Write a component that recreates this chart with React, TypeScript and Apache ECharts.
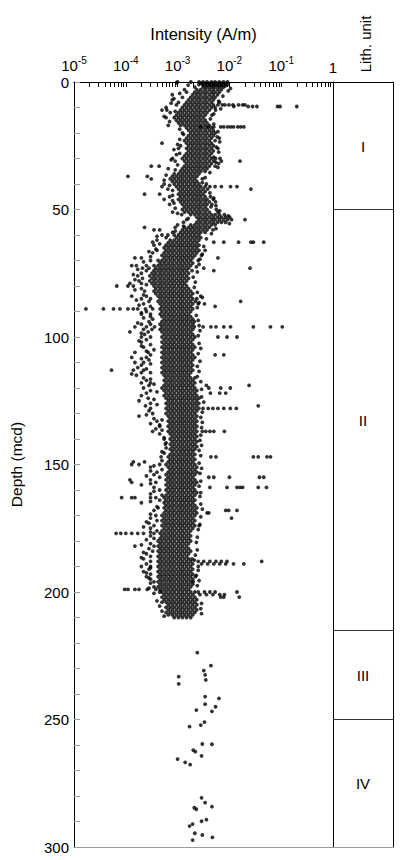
import { useEffect, useRef } from "react";
import * as echarts from "echarts";

type Row = [number, number[]];

// Remanent intensity, in mA/m (10^-3 A/m), listed per depth row (mcd)
const unitIRows: Row[] = [
  [0, [1.0, 1.8, 2.6, 3.1, 3.7, 4.5, 5.3, 6.4, 7.7, 9.2]],
  [0.5, [2.8, 3.4, 4.1, 4.9, 5.9, 7.0, 8.4]],
  [1, [2.58, 3.1, 3.7, 4.5, 5.3, 6.4, 7.7, 9.2]],
  [1.5, [3.4, 4.1, 4.9, 5.9, 7.0, 8.4]],
  [2, [2.15, 3.1, 3.7, 4.5, 5.3, 6.4, 7.7]],
  [3, [1.36, 2.35, 2.8, 3.4, 4.1, 4.9, 5.9, 7.0]],
  [4, [1.49, 2.15, 2.58, 3.1, 3.7, 4.5, 5.3, 6.4]],
  [5, [0.79, 1.96, 2.35, 2.8, 3.4, 4.1, 4.9, 5.9]],
  [6, [1.24, 1.79, 2.15, 2.58, 3.1, 3.7, 4.5, 5.3]],
  [7, [0.79, 1.63, 1.96, 2.35, 2.8, 3.4, 4.1, 4.9]],
  [8, [1.04, 1.49, 1.79, 2.15, 2.58, 3.1, 3.7, 4.5, 6.4]],
  [9, [0.95, 1.36, 1.63, 1.96, 2.35, 2.8, 3.4, 4.1, 4.9, 6.0, 7.3, 8.2, 9.8, 11.7, 15, 18, 20]],
  [9.6, [12.2, 23, 28, 34, 85, 95, 200]],
  [10, [0.6, 1.24, 1.49, 1.79, 2.15, 2.58, 3.1, 3.7, 4.5, 5.3]],
  [11, [0.5, 0.62, 1.14, 1.36, 1.63, 1.96, 2.35, 2.8, 3.4, 4.1, 5.4]],
  [12, [0.72, 1.04, 1.24, 1.49, 1.79, 2.15, 2.58, 3.1, 3.7]],
  [13, [0.95, 1.14, 1.36, 1.63, 1.96, 2.35, 2.8, 3.4, 4.6]],
  [14, [0.6, 0.86, 1.04, 1.24, 1.49, 1.79, 2.15, 2.58, 3.1]],
  [15, [0.95, 1.14, 1.36, 1.63, 1.96, 2.35, 2.8, 3.4]],
  [16, [1.04, 1.24, 1.49, 1.79, 2.15, 2.58, 3.1, 3.7]],
  [17, [0.66, 1.14, 1.36, 1.63, 1.96, 2.35, 2.8, 3.4, 4.1]],
  [17.6, [2.8, 3.9, 5.0, 6.8, 7.8, 9.3, 10.6, 12, 14.5, 16.5, 19]],
  [18, [1.49, 1.79, 2.15, 2.58, 3.1, 3.7, 4.5]],
  [19, [1.63, 1.96, 2.35, 2.8, 3.4, 4.1, 4.9]],
  [20, [1.24, 1.79, 2.15, 2.58, 3.1, 3.7, 4.5, 5.3]],
  [21, [1.63, 1.96, 2.35, 2.8, 3.4, 4.1, 4.9]],
  [22, [1.49, 1.79, 2.15, 2.58, 3.1, 3.7, 4.5, 6.4]],
  [23, [1.36, 1.63, 1.96, 2.35, 2.8, 3.4, 4.1, 5.3]],
  [24, [0.5, 1.49, 1.79, 2.15, 2.58, 3.1, 3.7, 4.5]],
  [25, [1.14, 1.63, 1.96, 2.35, 2.8, 3.4, 4.1, 4.9]],
  [26, [1.04, 1.49, 1.79, 2.15, 2.58, 3.1, 3.7, 4.5, 6.0]],
  [27, [1.63, 1.96, 2.35, 2.8, 3.4, 4.1, 4.9]],
  [28, [1.1, 1.49, 1.79, 2.15, 2.58, 3.1, 3.7, 4.5]],
  [29, [1.36, 1.63, 1.96, 2.35, 2.8, 3.4, 4.1]],
  [30, [0.8, 1.24, 1.49, 1.79, 2.15, 2.58, 3.1, 3.7, 4.5, 5.4, 6.6]],
  [31, [0.9, 1.36, 1.63, 1.96, 2.35, 2.8, 3.4, 4.1, 5.0, 7.0, 16]],
  [32, [1.49, 1.79, 2.15, 2.58, 3.1, 3.7, 4.5, 6.2]],
  [33, [0.31, 0.44, 1.36, 1.63, 1.96, 2.35, 2.8, 3.4, 4.1, 5.3]],
  [34, [0.66, 1.24, 1.49, 1.79, 2.15, 2.58, 3.1, 3.7]],
  [35, [1.14, 1.36, 1.63, 1.96, 2.35, 2.8, 3.4]],
  [36, [0.86, 1.04, 1.24, 1.49, 1.79, 2.15, 2.58]],
  [37, [0.11, 0.26, 0.79, 0.95, 1.14, 1.36, 1.63, 1.96, 2.35]],
  [38, [0.31, 0.72, 0.86, 1.04, 1.24, 1.49, 1.79, 2.15, 3.0]],
  [39, [0.79, 0.95, 1.14, 1.36, 1.63, 1.96, 2.35]],
  [40, [0.55, 0.86, 1.04, 1.24, 1.49, 1.79, 2.15, 2.58, 3.6]],
  [41, [0.5, 0.95, 1.14, 1.36, 1.63, 1.96, 2.35, 2.8, 3.4, 4.2, 5.3, 7.0, 10.5, 14]],
  [42, [0.65, 1.04, 1.24, 1.49, 1.79, 2.15, 2.58, 3.1, 3.8, 26]],
  [43, [1.14, 1.36, 1.63, 1.96, 2.35, 2.8, 3.4]],
  [44, [0.23, 0.45, 1.04, 1.24, 1.49, 1.79, 2.15, 2.58, 3.1]],
  [45, [0.7, 1.14, 1.36, 1.63, 1.96, 2.35, 2.8, 3.4, 4.3]],
  [46, [0.55, 1.04, 1.24, 1.49, 1.79, 2.15, 2.58, 3.1, 3.7, 4.9]],
  [47, [1.14, 1.36, 1.63, 1.96, 2.35, 2.8, 3.4, 4.1, 5.4]],
  [48, [0.7, 1.24, 1.49, 1.79, 2.15, 2.58, 3.1, 3.7, 4.6]],
  [49, [1.36, 1.63, 1.96, 2.35, 2.8, 3.4, 4.4]],
  [50, [1.24, 1.49, 1.79, 2.15, 2.58, 3.1, 3.7, 5.6]],
];

const unitIIRows: Row[] = [
  [51, [0.8, 1.36, 1.63, 1.96, 2.35, 2.8, 3.4, 4.1, 6.0]],
  [52, [1.2, 1.79, 2.15, 2.58, 3.1, 3.7, 4.5, 5.3, 6.4, 8.0]],
  [53, [2.35, 2.8, 3.4, 4.1, 4.9, 5.9, 7.0, 8.4, 10.1]],
  [54, [1.5, 2.58, 3.1, 3.7, 4.5, 5.3, 6.4, 7.7, 9.2, 11, 20]],
  [55, [1.3, 2.35, 2.8, 3.4, 4.1, 4.9, 5.9, 7.0, 8.4]],
  [56, [1.0, 1.79, 2.15, 2.58, 3.1, 3.7, 4.5, 5.3]],
  [57, [0.23, 0.9, 1.36, 1.63, 1.96, 2.35, 2.8, 3.4, 4.1]],
  [58, [0.35, 0.45, 1.24, 1.49, 1.79, 2.15, 2.58, 3.1, 3.7, 4.8]],
  [59, [0.8, 1.14, 1.36, 1.63, 1.96, 2.35, 2.8, 3.4]],
  [60, [0.5, 0.65, 0.86, 1.04, 1.24, 1.49, 1.79, 2.15, 2.58]],
  [61, [0.6, 0.95, 1.14, 1.36, 1.63, 1.96, 2.35, 2.8]],
  [62, [0.4, 0.72, 0.86, 1.04, 1.24, 1.49, 1.79, 2.15, 2.58]],
  [62.8, [0.33, 5.0, 7.8, 15, 26, 29, 46]],
  [63, [0.66, 0.79, 0.95, 1.14, 1.36, 1.63, 1.96, 2.35]],
  [64, [0.35, 0.6, 0.72, 0.86, 1.04, 1.24, 1.49, 1.79, 2.15, 2.58]],
  [65, [0.55, 0.66, 0.79, 0.95, 1.14, 1.36, 1.63, 1.96, 2.35]],
  [66, [0.4, 0.6, 0.72, 0.86, 1.04, 1.24, 1.49, 1.79, 2.15, 2.58, 3.4]],
  [67, [0.33, 0.55, 0.66, 0.79, 0.95, 1.14, 1.36, 1.63, 1.96, 2.35]],
  [68, [0.5, 0.6, 0.72, 0.86, 1.04, 1.24, 1.49, 1.79, 2.15, 2.9]],
  [69, [0.15, 0.2, 0.55, 0.66, 0.79, 0.95, 1.14, 1.36, 1.63, 1.96, 6.0]],
  [70, [0.3, 0.42, 0.5, 0.6, 0.72, 0.86, 1.04, 1.24, 1.49, 1.79, 2.5]],
  [71, [0.46, 0.55, 0.66, 0.79, 0.95, 1.14, 1.36, 1.63, 1.96]],
  [72, [0.13, 0.16, 0.25, 0.35, 0.42, 0.5, 0.6, 0.72, 0.86, 1.04, 1.24, 1.49, 1.79]],
  [73, [0.21, 0.28, 0.38, 0.46, 0.55, 0.66, 0.79, 0.95, 1.14, 1.36, 1.63, 3.2, 25]],
  [74, [0.25, 0.35, 0.42, 0.5, 0.6, 0.72, 0.86, 1.04, 1.24, 1.49, 1.9, 5.0]],
  [75, [0.2, 0.32, 0.38, 0.46, 0.55, 0.66, 0.79, 0.95, 1.14, 1.36, 1.63]],
  [76, [0.17, 0.29, 0.35, 0.42, 0.5, 0.6, 0.72, 0.86, 1.04, 1.24, 1.49]],
  [77, [0.21, 0.32, 0.38, 0.46, 0.55, 0.66, 0.79, 0.95, 1.14, 1.36, 1.63]],
  [78, [0.18, 0.29, 0.35, 0.42, 0.5, 0.6, 0.72, 0.86, 1.04, 1.24, 1.49]],
  [79, [0.12, 0.2, 0.32, 0.38, 0.46, 0.55, 0.66, 0.79, 0.95, 1.14, 1.36]],
  [80, [0.067, 0.11, 0.14, 0.35, 0.42, 0.5, 0.6, 0.72, 0.86, 1.04, 1.24, 1.49]],
  [81, [0.2, 0.38, 0.46, 0.55, 0.66, 0.79, 0.95, 1.14, 1.36, 1.63]],
  [82, [0.23, 0.35, 0.42, 0.5, 0.6, 0.72, 0.86, 1.04, 1.24, 1.49, 1.79]],
  [83, [0.38, 0.46, 0.55, 0.66, 0.79, 0.95, 1.14, 1.36, 1.63, 1.96]],
  [84, [0.13, 0.25, 0.42, 0.5, 0.6, 0.72, 0.86, 1.04, 1.24, 1.49, 1.79, 2.8]],
  [85, [0.2, 0.3, 0.46, 0.55, 0.66, 0.79, 0.95, 1.14, 1.36, 1.63, 1.96, 2.35]],
  [86, [0.28, 0.42, 0.5, 0.6, 0.72, 0.86, 1.04, 1.24, 1.49, 1.79, 2.2, 16.5]],
  [87, [0.22, 0.46, 0.55, 0.66, 0.79, 0.95, 1.14, 1.36, 1.63, 1.96, 2.5, 3.3]],
  [88, [0.3, 0.5, 0.6, 0.72, 0.86, 1.04, 1.24, 1.49, 1.79, 5.3]],
  [89, [0.017, 0.037, 0.058, 0.077, 0.11, 0.14, 0.17, 0.24, 0.33, 0.46, 0.55, 0.66, 0.79, 0.95, 1.14, 1.36, 1.63, 1.96]],
  [90, [0.25, 0.5, 0.6, 0.72, 0.86, 1.04, 1.24, 1.49, 1.79]],
  [91, [0.2, 0.3, 0.46, 0.55, 0.66, 0.79, 0.95, 1.14, 1.36, 1.63]],
  [92, [0.3, 0.5, 0.6, 0.72, 0.86, 1.04, 1.24, 1.49, 1.79]],
  [93, [0.33, 0.55, 0.66, 0.79, 0.95, 1.14, 1.36, 1.63, 1.96]],
  [94, [0.28, 0.5, 0.6, 0.72, 0.86, 1.04, 1.24, 1.49, 1.79, 2.1]],
  [95, [0.2, 0.3, 0.46, 0.55, 0.66, 0.79, 0.95, 1.14, 1.36, 1.63, 1.96]],
  [96, [0.15, 0.25, 0.36, 0.5, 0.6, 0.72, 0.86, 1.04, 1.24, 1.49, 1.79, 2.1, 3.1, 4.4, 5.5, 7.8, 10.5, 29, 62, 105]],
  [97, [0.22, 0.32, 0.46, 0.55, 0.66, 0.79, 0.95, 1.14, 1.36, 1.63, 1.96]],
  [98, [0.12, 0.27, 0.5, 0.6, 0.72, 0.86, 1.04, 1.24, 1.49, 1.79]],
  [99, [0.23, 0.55, 0.66, 0.79, 0.95, 1.14, 1.36, 1.63, 1.96]],
  [100, [0.2, 0.3, 0.5, 0.6, 0.72, 0.86, 1.04, 1.24, 1.49, 1.79, 2.15, 6.0, 9.0, 14]],
  [101, [0.25, 0.55, 0.66, 0.79, 0.95, 1.14, 1.36, 1.63, 1.96]],
  [102, [0.2, 0.5, 0.6, 0.72, 0.86, 1.04, 1.24, 1.49, 1.79]],
  [103, [0.3, 0.55, 0.66, 0.79, 0.95, 1.14, 1.36, 1.63, 1.96]],
  [104, [0.22, 0.5, 0.6, 0.72, 0.86, 1.04, 1.24, 1.49, 1.79, 2.15]],
  [105, [0.35, 0.55, 0.66, 0.79, 0.95, 1.14, 1.36, 1.63, 1.96]],
  [106, [0.15, 0.27, 0.5, 0.6, 0.72, 0.86, 1.04, 1.24, 1.49, 1.79]],
  [107, [0.3, 0.55, 0.66, 0.79, 0.95, 1.14, 1.36, 1.63, 1.96, 5.3, 7.8]],
  [108, [0.13, 0.25, 0.5, 0.6, 0.72, 0.86, 1.04, 1.24, 1.49, 1.79, 2.15]],
  [109, [0.28, 0.55, 0.66, 0.79, 0.95, 1.14, 1.36, 1.63, 1.96]],
  [110, [0.15, 0.22, 0.5, 0.6, 0.72, 0.86, 1.04, 1.24, 1.49, 1.79]],
  [111, [0.2, 0.55, 0.66, 0.79, 0.95, 1.14, 1.36, 1.63, 1.96]],
  [112, [0.17, 0.5, 0.6, 0.72, 0.86, 1.04, 1.24, 1.49, 1.79]],
  [113, [0.053, 0.14, 0.22, 0.55, 0.66, 0.79, 0.95, 1.14, 1.36, 1.63, 1.96]],
  [114, [0.2, 0.3, 0.5, 0.6, 0.72, 0.86, 1.04, 1.24, 1.49, 1.79]],
  [115, [0.16, 0.55, 0.66, 0.79, 0.95, 1.14, 1.36, 1.63]],
  [116, [0.22, 0.6, 0.72, 0.86, 1.04, 1.24, 1.49, 1.79, 2.15]],
  [117, [0.25, 0.55, 0.66, 0.79, 0.95, 1.14, 1.36, 1.63, 1.96]],
  [118, [0.2, 0.3, 0.6, 0.72, 0.86, 1.04, 1.24, 1.49, 1.79, 2.15]],
  [119, [0.28, 0.55, 0.66, 0.79, 0.95, 1.14, 1.36, 1.63, 1.96, 3.6, 24]],
  [120, [0.22, 0.5, 0.6, 0.72, 0.86, 1.04, 1.24, 1.49, 1.79, 2.15, 4.0, 6.8, 10.4]],
  [121, [0.3, 0.55, 0.66, 0.79, 0.95, 1.14, 1.36, 1.63, 1.96, 2.35]],
  [122, [0.25, 0.6, 0.72, 0.86, 1.04, 1.24, 1.49, 1.79, 2.15, 4.3, 6.5, 8.5]],
  [123, [0.2, 0.55, 0.66, 0.79, 0.95, 1.14, 1.36, 1.63, 1.96, 2.35]],
  [124, [0.27, 0.6, 0.72, 0.86, 1.04, 1.24, 1.49, 1.79, 2.15, 2.58]],
  [125, [0.18, 0.66, 0.79, 0.95, 1.14, 1.36, 1.63, 1.96, 2.35]],
  [126, [0.3, 0.6, 0.72, 0.86, 1.04, 1.24, 1.49, 1.79, 2.15, 2.58]],
  [127, [0.24, 0.66, 0.79, 0.95, 1.14, 1.36, 1.63, 1.96, 2.35, 36]],
  [128, [0.3, 0.6, 0.72, 0.86, 1.04, 1.24, 1.49, 1.79, 2.15, 2.58, 3.1, 3.9, 4.8, 6.0, 7.8, 10.4, 13.6]],
  [129, [0.28, 0.66, 0.79, 0.95, 1.14, 1.36, 1.63, 1.96, 2.35]],
  [130, [0.33, 0.6, 0.72, 0.86, 1.04, 1.24, 1.49, 1.79, 2.15]],
  [131, [0.18, 0.66, 0.79, 0.95, 1.14, 1.36, 1.63, 1.96, 2.35]],
  [132, [0.35, 0.72, 0.86, 1.04, 1.24, 1.49, 1.79, 2.15]],
  [133, [0.4, 0.66, 0.79, 0.95, 1.14, 1.36, 1.63, 1.96, 2.35]],
  [134, [0.3, 0.72, 0.86, 1.04, 1.24, 1.49, 1.79, 2.15]],
  [135, [0.45, 0.66, 0.79, 0.95, 1.14, 1.36, 1.63, 1.96, 2.35]],
  [136, [0.38, 0.72, 0.86, 1.04, 1.24, 1.49, 1.79, 2.15]],
  [137, [0.33, 0.66, 0.79, 0.95, 1.14, 1.36, 1.63, 1.96, 2.35, 3.0, 3.5, 4.2, 5.0, 8.0]],
  [138, [0.45, 0.72, 0.86, 1.04, 1.24, 1.49, 1.79, 2.15]],
  [139, [0.79, 0.95, 1.14, 1.36, 1.63, 1.96, 2.35]],
  [140, [0.55, 0.72, 0.86, 1.04, 1.24, 1.49, 1.79, 2.15]],
  [141, [0.79, 0.95, 1.14, 1.36, 1.63, 1.96, 2.35]],
  [142, [0.58, 0.72, 0.86, 1.04, 1.24, 1.49, 1.79, 2.15]],
  [143, [0.79, 0.95, 1.14, 1.36, 1.63, 1.96, 2.35]],
  [144, [0.72, 0.86, 1.04, 1.24, 1.49, 1.79, 2.15]],
  [145, [0.5, 0.79, 0.95, 1.14, 1.36, 1.63, 1.96]],
  [146, [0.72, 0.86, 1.04, 1.24, 1.49, 1.79, 2.15]],
  [147, [0.48, 0.66, 0.79, 0.95, 1.14, 1.36, 1.63, 1.96, 4.4, 5.5, 29, 36, 53, 62]],
  [148, [0.72, 0.86, 1.04, 1.24, 1.49, 1.79, 2.15]],
  [149, [0.14, 0.23, 0.66, 0.79, 0.95, 1.14, 1.36, 1.63, 1.96]],
  [150, [0.13, 0.18, 0.45, 0.6, 0.72, 0.86, 1.04, 1.24, 1.49, 1.79, 2.15]],
  [151, [0.3, 0.66, 0.79, 0.95, 1.14, 1.36, 1.63, 1.96, 2.35]],
  [152, [0.5, 0.72, 0.86, 1.04, 1.24, 1.49, 1.79, 2.15]],
  [153, [0.4, 0.66, 0.79, 0.95, 1.14, 1.36, 1.63, 1.96, 2.35]],
  [154, [0.35, 0.6, 0.72, 0.86, 1.04, 1.24, 1.49, 1.79, 2.15]],
  [155, [0.45, 0.66, 0.79, 0.95, 1.14, 1.36, 1.63, 1.96, 4.0, 5.0, 10, 38, 46]],
  [156, [0.12, 0.3, 0.6, 0.72, 0.86, 1.04, 1.24, 1.49, 1.79, 2.15]],
  [157, [0.13, 0.38, 0.66, 0.79, 0.95, 1.14, 1.36, 1.63, 1.96, 2.35]],
  [158, [0.2, 0.6, 0.72, 0.86, 1.04, 1.24, 1.49, 1.79, 2.15]],
  [159, [0.35, 0.66, 0.79, 0.95, 1.14, 1.36, 1.63, 1.96, 4.2, 9.0, 14, 16, 18, 36, 52]],
  [160, [0.45, 0.6, 0.72, 0.86, 1.04, 1.24, 1.49, 1.79, 2.15]],
  [161, [0.66, 0.79, 0.95, 1.14, 1.36, 1.63, 1.96, 2.35, 2.8]],
  [162, [0.5, 0.6, 0.72, 0.86, 1.04, 1.24, 1.49, 1.79, 2.15]],
  [163, [0.083, 0.13, 0.15, 0.3, 0.38, 0.55, 0.66, 0.79, 0.95, 1.14, 1.36, 1.63, 1.96]],
  [164, [0.45, 0.6, 0.72, 0.86, 1.04, 1.24, 1.49, 1.79, 2.15]],
  [165, [0.2, 0.55, 0.66, 0.79, 0.95, 1.14, 1.36, 1.63, 1.96]],
  [166, [0.6, 0.72, 0.86, 1.04, 1.24, 1.49, 1.79, 2.15]],
  [167, [0.42, 0.55, 0.66, 0.79, 0.95, 1.14, 1.36, 1.63, 1.96, 2.35]],
  [168, [0.35, 0.6, 0.72, 0.86, 1.04, 1.24, 1.49, 1.79, 2.15, 8.5, 9.7, 14]],
  [169, [0.55, 0.66, 0.79, 0.95, 1.14, 1.36, 1.63, 1.96, 2.35, 3.7, 4.0]],
  [170, [0.38, 0.5, 0.6, 0.72, 0.86, 1.04, 1.24, 1.49, 1.79, 2.15]],
  [171, [0.3, 0.55, 0.66, 0.79, 0.95, 1.14, 1.36, 1.63, 1.96, 11]],
  [172, [0.4, 0.5, 0.6, 0.72, 0.86, 1.04, 1.24, 1.49, 1.79, 2.15]],
  [173, [0.28, 0.55, 0.66, 0.79, 0.95, 1.14, 1.36, 1.63, 1.96]],
  [174, [0.35, 0.5, 0.6, 0.72, 0.86, 1.04, 1.24, 1.49, 1.79, 2.15, 2.6]],
  [175, [0.3, 0.55, 0.66, 0.79, 0.95, 1.14, 1.36, 1.63, 1.96]],
  [176, [0.4, 0.5, 0.6, 0.72, 0.86, 1.04, 1.24, 1.49, 1.79]],
  [177, [0.065, 0.08, 0.1, 0.13, 0.17, 0.22, 0.35, 0.46, 0.55, 0.66, 0.79, 0.95, 1.14, 1.36, 1.63]],
  [178, [0.3, 0.5, 0.6, 0.72, 0.86, 1.04, 1.24, 1.49, 1.79]],
  [179, [0.35, 0.46, 0.55, 0.66, 0.79, 0.95, 1.14, 1.36, 1.63]],
  [180, [0.42, 0.5, 0.6, 0.72, 0.86, 1.04, 1.24, 1.49, 1.79]],
  [181, [0.3, 0.46, 0.55, 0.66, 0.79, 0.95, 1.14, 1.36, 1.63]],
  [182, [0.15, 0.35, 0.42, 0.5, 0.6, 0.72, 0.86, 1.04, 1.24, 1.49]],
  [183, [0.28, 0.46, 0.55, 0.66, 0.79, 0.95, 1.14, 1.36, 1.63]],
  [184, [0.33, 0.42, 0.5, 0.6, 0.72, 0.86, 1.04, 1.24, 1.49, 1.79]],
  [185, [0.25, 0.46, 0.55, 0.66, 0.79, 0.95, 1.14, 1.36, 1.63]],
  [186, [0.3, 0.42, 0.5, 0.6, 0.72, 0.86, 1.04, 1.24, 1.49]],
  [187, [0.22, 0.46, 0.55, 0.66, 0.79, 0.95, 1.14, 1.36, 1.63, 1.9]],
  [188, [0.3, 0.42, 0.5, 0.6, 0.72, 0.86, 1.04, 1.24, 1.49, 1.79, 2.5, 3.2, 4.2, 5.5, 7.0, 9.0, 42]],
  [189, [0.25, 0.46, 0.55, 0.66, 0.79, 0.95, 1.14, 1.36, 1.63, 1.96, 2.9, 3.8, 5.0, 6.5, 8.5, 12, 19]],
  [190, [0.2, 0.3, 0.42, 0.5, 0.6, 0.72, 0.86, 1.04, 1.24, 1.49, 1.79, 2.5]],
  [191, [0.28, 0.46, 0.55, 0.66, 0.79, 0.95, 1.14, 1.36, 1.63, 1.96]],
  [192, [0.22, 0.42, 0.5, 0.6, 0.72, 0.86, 1.04, 1.24, 1.49, 1.79]],
  [193, [0.3, 0.46, 0.55, 0.66, 0.79, 0.95, 1.14, 1.36, 1.63, 1.96]],
  [194, [0.25, 0.42, 0.5, 0.6, 0.72, 0.86, 1.04, 1.24, 1.49, 1.79, 2.2]],
  [195, [0.3, 0.46, 0.55, 0.66, 0.79, 0.95, 1.14, 1.36, 1.63, 1.96]],
  [196, [0.35, 0.42, 0.5, 0.6, 0.72, 0.86, 1.04, 1.24, 1.49, 1.79, 2.0]],
  [197, [0.46, 0.55, 0.66, 0.79, 0.95, 1.14, 1.36, 1.63, 1.96]],
  [198, [0.35, 0.42, 0.5, 0.6, 0.72, 0.86, 1.04, 1.24, 1.49, 1.79]],
  [199, [0.095, 0.11, 0.15, 0.18, 0.26, 0.38, 0.46, 0.55, 0.66, 0.79, 0.95, 1.14, 1.36, 1.63]],
  [200, [0.45, 0.5, 0.6, 0.72, 0.86, 1.04, 1.24, 1.49, 1.79, 2.15, 2.5, 3.3, 4.2, 5.3, 14]],
  [201, [0.55, 0.66, 0.79, 0.95, 1.14, 1.36, 1.63, 1.96, 2.7, 3.6, 4.8, 6.5, 8.0]],
  [202, [0.5, 0.6, 0.72, 0.86, 1.04, 1.24, 1.49, 1.79, 2.15, 6.8, 7.8, 15.5]],
  [203, [0.55, 0.66, 0.79, 0.95, 1.14, 1.36, 1.63, 1.96, 2.35]],
  [204, [0.5, 0.6, 0.72, 0.86, 1.04, 1.24, 1.49, 1.79, 2.15]],
  [205, [0.66, 0.79, 0.95, 1.14, 1.36, 1.63, 1.96, 2.35]],
  [206, [0.6, 0.72, 0.86, 1.04, 1.24, 1.49, 1.79, 2.15]],
  [207, [0.66, 0.79, 0.95, 1.14, 1.36, 1.63, 1.96, 2.35]],
  [208, [0.6, 0.72, 0.86, 1.04, 1.24, 1.49, 1.79, 2.15]],
  [209, [0.66, 0.79, 0.95, 1.14, 1.36, 1.63, 1.96]],
  [210, [0.86, 1.04, 1.24, 1.49, 1.79]],
];

// Scattered samples along the edges of the dense band: [depth (mcd), intensity (mA/m)]
const fringePoints: [number, number][] = [
  [0.3, 0.95], [1.2, 1.6], [2.5, 10.5], [3.5, 9.5], [4.5, 1.1], [5.5, 7.5], [6.5, 0.85],
  [7.5, 6.2], [8.3, 0.75], [10.5, 6.8], [11.5, 0.9], [12.5, 5.0], [13.5, 0.55], [14.5, 4.3],
  [15.5, 0.7], [16.5, 5.0], [18.5, 1.1], [19.5, 6.0], [20.5, 1.3], [21.5, 5.8], [22.5, 1.1],
  [23.5, 6.5], [24.5, 1.0], [25.5, 5.6], [26.5, 0.85], [27.5, 6.2], [28.5, 0.95], [29.5, 5.0],
  [30.5, 0.75], [31.5, 5.5], [32.5, 1.0], [33.5, 6.0], [34.5, 0.9], [35.5, 4.2], [36.5, 0.6],
  [37.5, 3.4], [38.5, 0.55], [39.5, 3.0], [40.5, 0.7], [42.5, 0.8], [43.5, 4.2], [44.5, 0.8],
  [45.5, 5.0], [46.5, 0.8], [47.5, 0.85], [48.5, 5.5], [49.5, 0.9],
  [50.5, 6.5], [51.5, 1.0], [52.5, 9.5], [53.5, 1.6], [55.5, 10], [56.5, 1.3], [57.5, 5.5],
  [58.5, 0.9], [59.5, 4.5], [60.5, 0.4], [61.5, 3.6], [63.5, 0.45], [64.5, 3.2], [65.5, 0.38],
  [66.5, 0.28], [67.5, 3.0], [68.5, 0.3], [69.5, 2.7], [70.5, 0.22], [71.5, 2.6], [72.5, 2.3],
  [73.5, 0.17], [74.5, 2.4], [75.5, 0.14], [76.5, 2.0], [77.5, 0.15], [78.5, 2.2], [79.5, 0.25],
  [80.5, 2.1], [81.5, 0.15], [82.5, 2.4], [83.5, 0.22], [84.5, 3.0], [85.5, 0.16], [86.5, 2.6],
  [87.5, 0.18], [88.5, 2.4], [90.5, 0.2], [91.5, 2.3], [92.5, 0.22], [93.5, 2.5], [94.5, 0.17],
  [95.5, 2.6], [97.5, 2.7], [98.5, 0.2], [99.5, 2.5], [101.5, 0.18], [102.5, 2.6], [103.5, 0.2],
  [104.5, 2.8], [105.5, 0.25], [106.5, 2.5], [108.5, 0.2], [109.5, 2.7], [110.5, 0.3], [111.5, 2.4],
  [112.5, 0.25], [113.5, 2.6], [114.5, 0.13], [115.5, 2.4], [116.5, 0.3], [117.5, 2.8], [118.5, 0.35],
  [120.5, 2.9], [121.5, 0.4], [123.5, 2.9], [124.5, 0.35], [125.5, 3.2], [126.5, 0.4], [129.5, 3.0],
  [130.5, 0.25], [131.5, 2.8], [132.5, 0.5], [133.5, 3.0], [134.5, 0.45], [135.5, 2.9], [136.5, 0.5],
  [138.5, 2.8], [139.5, 0.55], [140.5, 2.7], [141.5, 0.6], [142.5, 2.9], [143.5, 0.6], [144.5, 2.6],
  [145.5, 0.55], [146.5, 2.8], [148.5, 0.5], [149.5, 2.6], [150.5, 0.35], [151.5, 2.9], [152.5, 0.3],
  [153.5, 2.7], [154.5, 0.25], [156.5, 2.8], [157.5, 0.3], [158.5, 2.6], [160.5, 0.35], [161.5, 0.3],
  [162.5, 2.7], [164.5, 0.3], [165.5, 2.8], [166.5, 0.4], [167.5, 3.0], [169.5, 0.3], [170.5, 2.8],
  [172.5, 0.25], [173.5, 2.7], [174.5, 0.22], [175.5, 2.5], [176.5, 0.3], [178.5, 2.4], [179.5, 0.25],
  [180.5, 2.3], [181.5, 0.2], [183.5, 2.4], [184.5, 0.22], [185.5, 2.2], [186.5, 0.2], [187.5, 2.1],
  [190.5, 0.3], [191.5, 2.5], [192.5, 0.25], [193.5, 2.3], [194.5, 0.28], [195.5, 2.6], [196.5, 0.3],
  [197.5, 2.4], [198.5, 0.28], [200.5, 0.35], [203.5, 0.4], [204.5, 2.9], [205.5, 0.45], [206.5, 2.8],
  [207.5, 0.5], [208.5, 2.9], [209.5, 0.55],
];

// [depth (mcd), intensity (mA/m)]
const unitIIIPoints: [number, number][] = [
  [223.8, 2.4], [228.9, 4.4], [230.8, 3.2], [232.5, 3.4], [233.2, 1.05],
  [234.5, 3.5], [236, 1.05], [241, 3.4], [241.7, 6.3], [244, 3.4],
  [245, 5.4], [246.3, 2.3], [246.8, 4.6],
];

const unitIVPoints: [number, number][] = [
  [251, 3.3], [252.2, 2.8], [252.8, 1.7], [259.6, 3.0], [259.7, 4.6],
  [262, 2.0], [262.6, 2.2], [264.3, 2.9], [265.5, 1.0], [266.8, 1.4],
  [267.7, 1.75], [280.7, 2.9], [282.6, 3.4], [284.2, 4.6], [284.6, 2.1],
  [285.2, 2.3], [289.3, 3.6], [289.9, 2.9], [291, 1.95], [291.8, 1.7],
  [294.6, 2.15], [295.3, 3.0], [296.2, 4.7], [297.3, 1.95],
];

const lithNames = ["I", "II", "III", "IV"];
const lithTops = [0, 50, 215, 250];
const lithBases = [50, 215, 250, 300];

const FONT = "'Liberation Sans', Arial, Helvetica, sans-serif";

export default function App() {
  const ref = useRef<HTMLDivElement>(null);

  useEffect(() => {
    if (!ref.current) return;
    const chart = echarts.init(ref.current, null, { renderer: "svg" });

    const points: number[][] = [];
    unitIRows.concat(unitIIRows).forEach(([d, vals]) => {
      vals.forEach((v) => points.push([v / 1000, d]));
    });
    fringePoints
      .concat(unitIIIPoints, unitIVPoints)
      .forEach(([d, v]) => points.push([v / 1000, d]));

    const logTicks: number[] = [];
    for (let e = -5; e < 0; e++) {
      for (let k = 1; k < 10; k++) logTicks.push(k * Math.pow(10, e));
    }
    logTicks.push(1);

    const hiddenAxis = (extra: any) => ({
      type: "value",
      min: 0,
      max: 1,
      axisTick: { show: false },
      axisLabel: { show: false },
      splitLine: { show: false },
      ...extra,
    });

    chart.setOption({
      animation: false,
      textStyle: { fontFamily: FONT },
      grid: [
        { left: 72, top: 82, width: 261, height: 765 },
        { left: 333, top: 82, width: 60, height: 765 },
      ],
      xAxis: [
        {
          type: "log",
          logBase: 10,
          min: 1e-5,
          max: 1,
          gridIndex: 0,
          position: "top",
          name: "Intensity (A/m)",
          nameLocation: "middle",
          nameGap: 40,
          nameTextStyle: { fontSize: 16.5, color: "#000", fontFamily: FONT },
          axisLine: { show: true, onZero: false, lineStyle: { color: "#000", width: 1 } },
          axisTick: {
            show: true,
            inside: true,
            length: 5,
            customValues: logTicks,
            lineStyle: { color: "#000", width: 1 },
          },
          axisLabel: {
            color: "#000",
            margin: 7,
            fontFamily: FONT,
            formatter: (v: number) => {
              const e = Math.round(Math.log10(v));
              return e === 0 ? "{b|1}" : `{b|10}{s|${e}}`;
            },
            rich: {
              b: { fontSize: 15, color: "#000", fontFamily: FONT },
              s: { fontSize: 10, color: "#000", fontFamily: FONT, padding: [0, 0, 10, 0] },
            },
          },
          splitLine: { show: false },
          minorSplitLine: { show: false },
        },
        hiddenAxis({
          gridIndex: 0,
          position: "bottom",
          axisLine: { show: true, onZero: false, lineStyle: { color: "#9a9a9a", width: 1 } },
        }),
        hiddenAxis({
          gridIndex: 1,
          position: "top",
          axisLine: { show: true, onZero: false, lineStyle: { color: "#000", width: 1 } },
        }),
        hiddenAxis({
          gridIndex: 1,
          position: "bottom",
          axisLine: { show: true, onZero: false, lineStyle: { color: "#9a9a9a", width: 1 } },
        }),
      ],
      yAxis: [
        {
          type: "value",
          gridIndex: 0,
          inverse: true,
          min: 0,
          max: 300,
          interval: 10,
          name: "Depth (mcd)",
          nameLocation: "middle",
          nameGap: 50,
          nameTextStyle: { fontSize: 15.5, color: "#000", fontFamily: FONT },
          axisLine: { show: true, onZero: false, lineStyle: { color: "#000", width: 1 } },
          axisTick: { show: true, inside: true, length: 6, lineStyle: { color: "#9a9a9a", width: 1 } },
          axisLabel: {
            fontSize: 15,
            color: "#000",
            margin: 5,
            fontFamily: FONT,
            formatter: (v: number) => (v % 50 === 0 ? String(v) : ""),
          },
          splitLine: { show: false },
        },
        {
          type: "value",
          gridIndex: 1,
          inverse: true,
          min: 0,
          max: 300,
          position: "left",
          axisLine: { show: true, onZero: false, lineStyle: { color: "#000", width: 1 } },
          axisTick: { show: false },
          axisLabel: { show: false },
          splitLine: { show: false },
        },
        {
          type: "value",
          gridIndex: 1,
          inverse: true,
          min: 0,
          max: 300,
          position: "right",
          axisLine: { show: true, onZero: false, lineStyle: { color: "#000", width: 1 } },
          axisTick: { show: false },
          axisLabel: { show: false },
          splitLine: { show: false },
        },
      ],
      series: [
        {
          type: "scatter",
          xAxisIndex: 0,
          yAxisIndex: 0,
          data: points,
          symbol: "circle",
          symbolSize: 3.8,
          itemStyle: { color: "#000" },
          silent: true,
        },
        {
          type: "line",
          xAxisIndex: 2,
          yAxisIndex: 1,
          silent: true,
          data: [],
          markLine: {
            silent: true,
            symbol: ["none", "none"],
            label: { show: false },
            lineStyle: { color: "#333", width: 1, type: "solid" },
            data: lithBases.slice(0, 3).map((d) => ({ yAxis: d })),
          },
        },
      ],
    });

    // Unit labels placed at the middle of each unit through the library's own axis scale
    const cx = chart.convertToPixel({ xAxisIndex: 2 }, 0.5) as number;
    const unitLabels = lithNames.map((n, i) => ({
      type: "text",
      x: Math.round(cx),
      y: Math.round(chart.convertToPixel({ yAxisIndex: 1 }, (lithTops[i] + lithBases[i]) / 2) as number),
      silent: true,
      style: {
        text: n,
        fontSize: 15,
        fontFamily: FONT,
        fill: "#000",
        align: "center",
        verticalAlign: "middle",
      },
    }));

    chart.setOption({
      graphic: [
        {
          type: "text",
          x: 365,
          y: 44,
          rotation: Math.PI / 2,
          silent: true,
          style: {
            text: "Lith. unit",
            fontSize: 15,
            fontFamily: FONT,
            fill: "#000",
            align: "center",
            verticalAlign: "middle",
          },
        },
        ...unitLabels,
      ],
    });

    return () => chart.dispose();
  }, []);

  return (
    <div
      ref={ref}
      style={{ position: "fixed", left: 0, top: 0, width: 410, height: 860, background: "#fff" }}
    />
  );
}
